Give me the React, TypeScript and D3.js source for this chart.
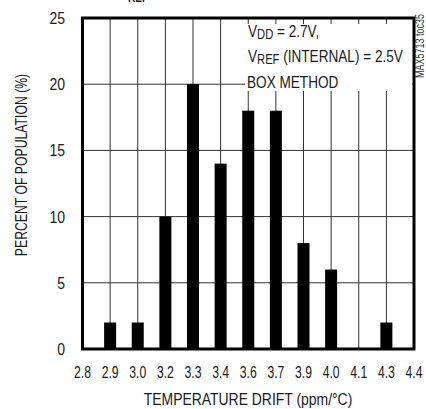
import React from "react";
import * as d3 from "d3";

const xTickLabels = ["2.8", "2.9", "3.0", "3.2", "3.3", "3.4", "3.6", "3.7", "3.9", "4.0", "4.1", "4.3", "4.4"];
const barCategories = ["2.9", "3.0", "3.2", "3.3", "3.4", "3.6", "3.7", "3.9", "4.0", "4.3"];
const barValues = [2, 2, 10, 20, 14, 18, 18, 8, 6, 2];
const yTicks = [0, 5, 10, 15, 20, 25];

const W = 426;
const H = 409;
const left = 82.5;
const right = 414;
const top = 18;
const bottom = 349;
const FONT = "'Liberation Sans', Arial, sans-serif";
const SX = 0.77;

function T(props: { x: number; y: number; sx?: number; rotate?: number; anchor?: string; size: number; fill?: string; children: React.ReactNode; weight?: string }) {
  const { x, y, sx = SX, rotate = 0, anchor = "start", size, fill = "#1a1a1a", children, weight } = props;
  return (
    <text
      transform={`translate(${x},${y}) rotate(${rotate}) scale(${sx},1)`}
      textAnchor={anchor}
      fontSize={size}
      fill={fill}
      fontWeight={weight}
    >
      {children}
    </text>
  );
}

export default function App() {
  const x = d3.scalePoint<string>().domain(xTickLabels).range([left, right]);
  const y = d3.scaleLinear().domain([0, 25]).range([bottom, top]);
  const barW = 12;
  return (
    <svg width={W} height={H} style={{ position: "absolute", left: 0, top: 0, background: "#fff" }} fontFamily={FONT}>
      <rect x={0} y={0} width={W} height={H} fill="#fff" />
      {yTicks.slice(1, -1).map((t) => (
        <line key={"h" + t} x1={left} x2={right} y1={y(t)} y2={y(t)} stroke="#333" strokeWidth={1} />
      ))}
      {xTickLabels.slice(1, -1).map((c) => (
        <line key={"v" + c} x1={x(c)} x2={x(c)} y1={top} y2={bottom} stroke="#333" strokeWidth={1} />
      ))}
      <rect x={245} y={24} width={167} height={67} fill="#fff" />
      {barCategories.map((c, i) => (
        <rect key={c} x={(x(c) as number) - barW / 2} y={y(barValues[i])} width={barW} height={bottom - y(barValues[i])} fill="#000" />
      ))}
      <rect x={left} y={top} width={right - left} height={bottom - top} fill="none" stroke="#000" strokeWidth={3} />
      {yTicks.map((t) => (
        <T key={"yt" + t} x={65} y={y(t) + 6} anchor="end" size={16.5} sx={0.85}>{t}</T>
      ))}
      {xTickLabels.map((c) => (
        <T key={"xt" + c} x={x(c) as number} y={378} anchor="middle" size={16.5} sx={0.74}>{c}</T>
      ))}
      <T x={248} y={405} anchor="middle" size={17} sx={0.82}>TEMPERATURE DRIFT (ppm/°C)</T>
      <T x={27} y={165} rotate={-90} anchor="middle" size={17} sx={0.72}>PERCENT OF POPULATION (%)</T>
      <T x={248} y={37} size={17} sx={0.8}>V<tspan fontSize={14} dy={2}>DD</tspan><tspan dy={-2}> = 2.7V,</tspan></T>
      <T x={248} y={62} size={17} sx={0.8}>V<tspan fontSize={14} dy={2}>REF</tspan><tspan dy={-2}> (INTERNAL) = 2.5V</tspan></T>
      <T x={247} y={88} size={17} sx={0.8}>BOX METHOD</T>
      <T x={424} y={46} rotate={-90} anchor="middle" size={12} sx={0.75} fill="#333">MAX5713 toc35</T>
      <T x={128} y={2} size={13} weight="bold">REF</T>
    </svg>
  );
}
